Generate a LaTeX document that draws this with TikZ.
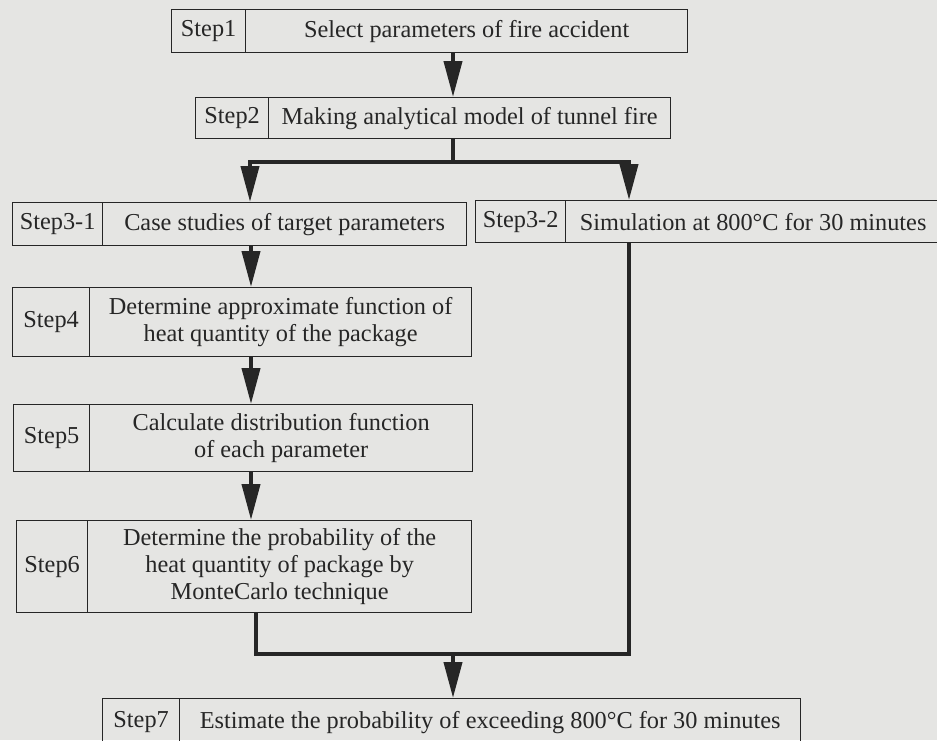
\documentclass[tikz,border=0pt]{standalone}
\usepackage{fontspec}
\setmainfont{Liberation Serif}
\usetikzlibrary{arrows.meta}
\definecolor{paper}{RGB}{229,229,227}
\definecolor{ink}{RGB}{38,38,38}
\newcommand\boxfont{\fontsize{24.3}{27}\selectfont}
\tikzset{
  stepbox/.style={draw=ink, line width=1.3pt, inner sep=0pt, anchor=north west,
    font=\boxfont, text=ink, align=center},
  conn/.style={draw=ink, line width=4pt, line join=miter},
  arr/.style={conn, -{Triangle[length=36pt,width=18pt]}}
}
\begin{document}
\begin{tikzpicture}[x=1pt,y=-1pt]
\useasboundingbox (0,0) rectangle (937,740);
\clip (0,0) rectangle (937,740);
\fill[paper] (0,0) rectangle (937,740);

% Step 1
\node[stepbox, minimum width=74pt, minimum height=43pt] (l1) at (171,9) {Step1};
\node[stepbox, minimum width=442pt, minimum height=43pt] (t1) at (245,9) {Select parameters of fire accident};
% Step 2
\node[stepbox, minimum width=73pt, minimum height=41pt] (l2) at (195,97) {Step2};
\node[stepbox, minimum width=402pt, minimum height=41pt] (t2) at (268,97) {Making analytical model of tunnel fire};
% Step 3-1
\node[stepbox, minimum width=90pt, minimum height=43pt] (l31) at (12,202) {Step3-1};
\node[stepbox, minimum width=364pt, minimum height=43pt] (t31) at (102,202) {Case studies of target parameters};
% Step 3-2
\node[stepbox, minimum width=90pt, minimum height=42pt] (l32) at (475,200) {Step3-2};
\node[stepbox, minimum width=375pt, minimum height=42pt] (t32) at (565,200) {Simulation at 800°C for 30 minutes};
% Step 4
\node[stepbox, minimum width=77pt, minimum height=69pt] (l4) at (12,287) {Step4};
\node[stepbox, minimum width=382pt, minimum height=69pt] (t4) at (89,287) {Determine approximate function of\\heat quantity of the package};
% Step 5
\node[stepbox, minimum width=76pt, minimum height=67pt] (l5) at (13,404) {Step5};
\node[stepbox, minimum width=383pt, minimum height=67pt] (t5) at (89,404) {Calculate distribution function\\of each parameter};
% Step 6
\node[stepbox, minimum width=71pt, minimum height=92pt] (l6) at (16,520) {Step6};
\node[stepbox, minimum width=384pt, minimum height=92pt] (t6) at (87,520) {Determine the probability of the\\heat quantity of package by\\MonteCarlo technique};
% Step 7
\node[stepbox, minimum width=77pt, minimum height=47pt] (l7) at (102,698) {Step7};
\node[stepbox, minimum width=621pt, minimum height=47pt] (t7) at (179,698) {Estimate the probability of exceeding 800°C for 30 minutes};

% junction coordinates
\coordinate (a1) at (453,0);
\coordinate (j1) at (453,162);
\coordinate (jl) at (250,162);
\coordinate (jr) at (629,162);
\coordinate (cl) at (251,0);
\coordinate (ml) at (256,654);
\coordinate (m) at (453,654);
\coordinate (mr) at (629,654);

% connectors
\draw[arr] (t1.south -| a1) -- (t2.north -| a1);
\draw[conn] (t2.south -| j1) -- (j1);
\draw[arr] (j1) -- (jl) -- (t31.north -| jl);
\draw[arr] (j1) -- (jr) -- (t32.north -| jr);
\draw[arr] (t31.south -| cl) -- (t4.north -| cl);
\draw[arr] (t4.south -| cl) -- (t5.north -| cl);
\draw[arr] (t5.south -| cl) -- (t6.north -| cl);
\draw[conn] (t6.south -| ml) -- (ml) -- (mr) -- (t32.south -| mr);
\draw[arr] (m) -- (t7.north -| m);
\end{tikzpicture}
\end{document}
